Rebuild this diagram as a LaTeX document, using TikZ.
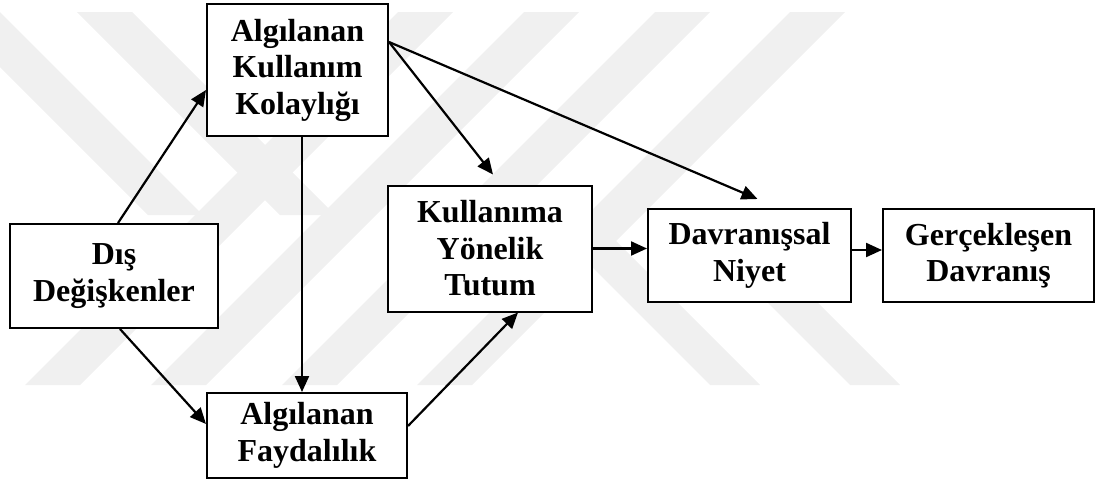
\documentclass[tikz,border=0pt]{standalone}
\usepackage{fontspec}
\setmainfont{Liberation Serif}
\usetikzlibrary{arrows.meta}
\begin{document}
\begin{tikzpicture}[x=1pt,y=-1pt,
  box/.style={draw=black, line width=2pt, fill=white, rectangle, inner sep=0pt,
    align=center, font=\fontsize{32}{36.5}\selectfont\bfseries},
  arr/.style={line width=2.2pt, -{Triangle[length=16pt,width=14pt]}},
  wm/.style={fill=black!6, draw=none}]
\useasboundingbox (0,0) rectangle (1095,490);
% faint watermark
\fill[wm] (398,12) -- (453,12) -- (80,385) -- (25,385) -- cycle;
\fill[wm] (524,12) -- (579,12) -- (206,385) -- (151,385) -- cycle;
\fill[wm] (655,12) -- (710,12) -- (337,385) -- (282,385) -- cycle;
\fill[wm] (790,12) -- (845,12) -- (472,385) -- (417,385) -- cycle;
\fill[wm] (-55,12) -- (0,12) -- (203,215) -- (148,215) -- cycle;
\fill[wm] (77,12) -- (132,12) -- (335,215) -- (280,215) -- cycle;
\fill[wm] (565,240) -- (615,240) -- (760,385) -- (710,385) -- cycle;
\fill[wm] (755,290) -- (805,290) -- (900,385) -- (850,385) -- cycle;
% boxes
\node[box, minimum width=181pt, minimum height=132pt] (akk) at (297.5,70) {Algılanan\\Kullanım\\Kolaylığı};
\node[box, minimum width=208pt, minimum height=104pt] (dd) at (114,276) {Dış\\Değişkenler};
\node[box, minimum width=204pt, minimum height=126pt] (kyt) at (490,248.5) {Kullanıma\\Yönelik\\Tutum};
\node[box, minimum width=200pt, minimum height=85pt] (af) at (307,435.5) {Algılanan\\Faydalılık};
\node[box, minimum width=203pt, minimum height=93pt] (dn) at (749.5,255.5) {Davranışsal\\Niyet};
\node[box, minimum width=211pt, minimum height=93pt] (gd) at (988.5,255.5) {Gerçekleşen\\Davranış};
% connectors
\draw[arr] ([xshift=4pt]dd.north) -- ([yshift=-20pt]akk.west);
\draw[arr] ([xshift=6pt]dd.south) -- ([yshift=11.5pt]af.west);
\draw[arr] ([xshift=4.5pt]akk.south) -- ([xshift=-5pt]af.north);
\draw[arr] ([yshift=28pt]akk.east) -- ([xshift=3pt,yshift=10pt]kyt.north);
\draw[arr] ([yshift=28pt]akk.east) -- ([xshift=8pt,yshift=9pt]dn.north);
\draw[arr] ([yshift=9.5pt]af.east) -- ([xshift=28pt]kyt.south);
\draw[arr] (kyt.east) -- (kyt.east -| dn.west);
\draw[arr] ([yshift=5.5pt]dn.east) -- ([yshift=5.5pt]gd.west);
\end{tikzpicture}
\end{document}
